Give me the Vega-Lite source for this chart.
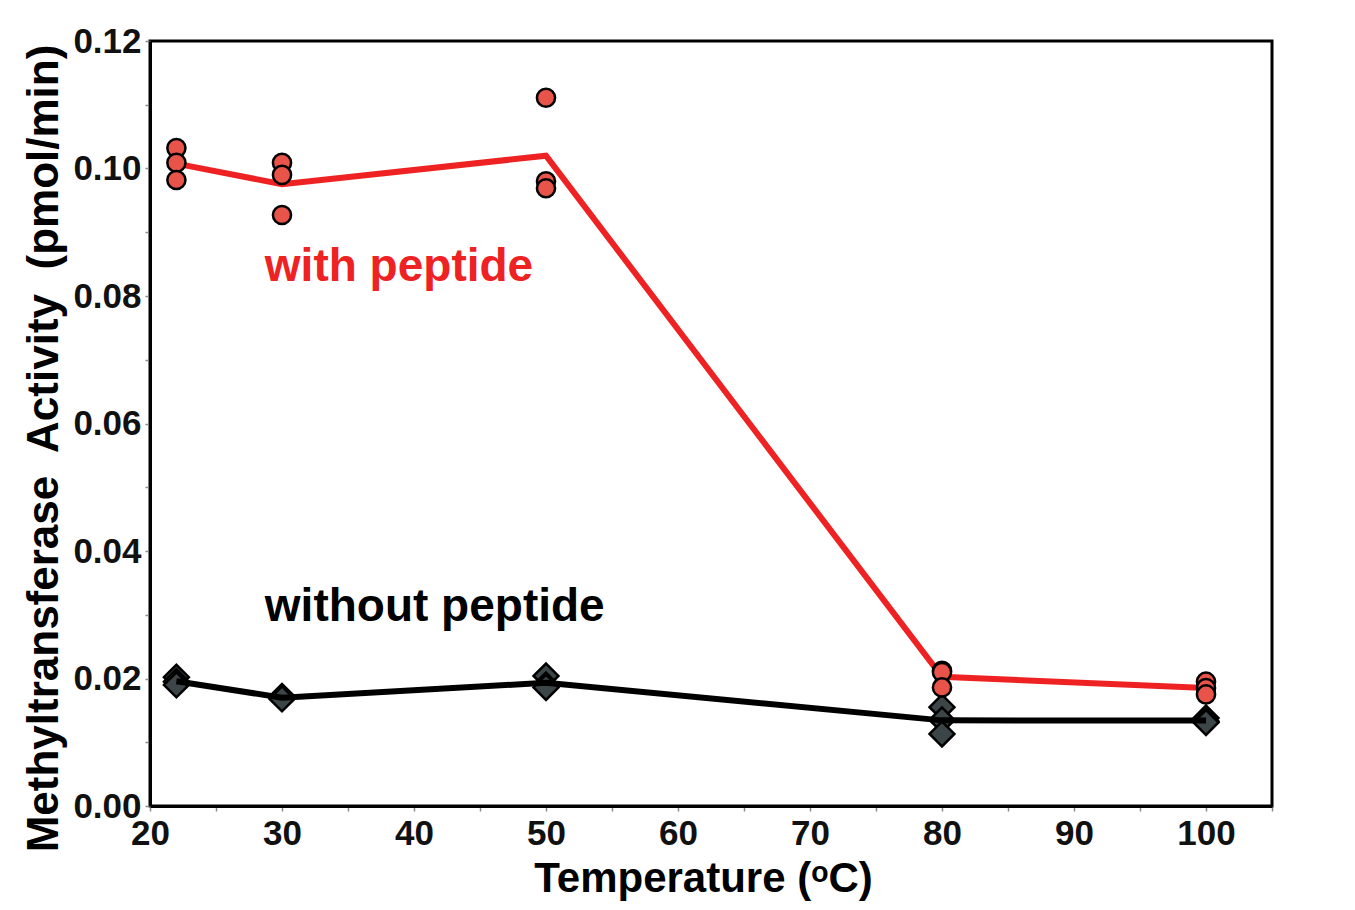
{
  "$schema": "https://vega.github.io/schema/vega-lite/v6.json",
  "width": 1122,
  "height": 765,
  "autosize": {"type": "none"},
  "padding": {"left": 150, "top": 41, "right": 83, "bottom": 104},
  "background": "white",
  "config": {
    "font": "Liberation Sans",
    "view": {"stroke": "black", "strokeWidth": 3},
    "axis": {
      "domainColor": "black",
      "domainWidth": 3,
      "tickColor": "#888888",
      "tickWidth": 1.5,
      "tickSize": 5,
      "grid": false,
      "labelFont": "Liberation Sans",
      "labelFontSize": 35,
      "labelFontWeight": "bold",
      "labelColor": "#111111",
      "titleFont": "Liberation Sans",
      "titleFontWeight": "bold",
      "titleColor": "black"
    }
  },
  "datasets": {
    "pts": [
      {"t": 22, "v": 0.1032, "s": "with"},
      {"t": 22, "v": 0.1009, "s": "with"},
      {"t": 22, "v": 0.0982, "s": "with"},
      {"t": 30, "v": 0.1009, "s": "with"},
      {"t": 30, "v": 0.0990, "s": "with"},
      {"t": 30, "v": 0.0927, "s": "with"},
      {"t": 50, "v": 0.1111, "s": "with"},
      {"t": 50, "v": 0.0980, "s": "with"},
      {"t": 50, "v": 0.0969, "s": "with"},
      {"t": 80, "v": 0.0212, "s": "with"},
      {"t": 80, "v": 0.0210, "s": "with"},
      {"t": 80, "v": 0.0186, "s": "with"},
      {"t": 100, "v": 0.0195, "s": "with"},
      {"t": 100, "v": 0.0185, "s": "with"},
      {"t": 100, "v": 0.0175, "s": "with"},
      {"t": 22, "v": 0.0202, "s": "without"},
      {"t": 22, "v": 0.0195, "s": "without"},
      {"t": 22, "v": 0.0190, "s": "without"},
      {"t": 30, "v": 0.0172, "s": "without"},
      {"t": 30, "v": 0.0170, "s": "without"},
      {"t": 30, "v": 0.0168, "s": "without"},
      {"t": 50, "v": 0.0204, "s": "without"},
      {"t": 50, "v": 0.0190, "s": "without"},
      {"t": 50, "v": 0.0186, "s": "without"},
      {"t": 80, "v": 0.0155, "s": "without"},
      {"t": 80, "v": 0.0135, "s": "without"},
      {"t": 80, "v": 0.0113, "s": "without"},
      {"t": 100, "v": 0.0138, "s": "without"},
      {"t": 100, "v": 0.0133, "s": "without"},
      {"t": 100, "v": 0.0131, "s": "without"}
    ],
    "labels": [
      {"t": 28.7, "v": 0.0845, "txt": "with peptide", "s": "with"},
      {"t": 28.7, "v": 0.0312, "txt": "without peptide", "s": "without"}
    ]
  },
  "encoding": {
    "x": {
      "field": "t",
      "type": "quantitative",
      "scale": {"domain": [20, 105], "nice": false, "zero": false},
      "axis": {
        "title": "Temperature (ᵒC)",
        "titleFontSize": 42,
        "titlePadding": 7,
        "titleX": 553,
        "values": [20, 25, 30, 35, 40, 45, 50, 55, 60, 65, 70, 75, 80, 85, 90, 95, 100, 105],
        "labelExpr": "datum.value % 10 == 0 && datum.value <= 100 ? datum.label : ''",
        "labelPadding": 5,
        "labelFlush": false
      }
    },
    "y": {
      "field": "v",
      "type": "quantitative",
      "scale": {"domain": [0, 0.12], "nice": false},
      "axis": {
        "title": "Methyltransferase\u00a0 Activity\u00a0 (pmol/min)",
        "titleFontSize": 44,
        "titlePadding": 6,
        "titleY": 407,
        "values": [0, 0.01, 0.02, 0.03, 0.04, 0.05, 0.06, 0.07, 0.08, 0.09, 0.1, 0.11, 0.12],
        "format": ".2f",
        "labelExpr": "abs(round(datum.value * 100) % 2) == 0 ? datum.label : ''",
        "labelPadding": 4,
        "labelFlush": false
      }
    }
  },
  "layer": [
    {
      "data": {"name": "pts"},
      "transform": [{"filter": "datum.s == 'with'"}],
      "mark": {"type": "line", "color": "#ee2222", "strokeWidth": 6},
      "encoding": {"y": {"aggregate": "mean", "field": "v", "type": "quantitative"}}
    },
    {
      "data": {"name": "pts"},
      "transform": [{"filter": "datum.s == 'without'"}],
      "mark": {"type": "point", "shape": "diamond", "filled": true, "fill": "#3c4547", "stroke": "black", "strokeWidth": 2.5, "size": 620, "opacity": 1}
    },
    {
      "data": {"name": "pts"},
      "transform": [{"filter": "datum.s == 'without'"}],
      "mark": {"type": "line", "color": "black", "strokeWidth": 6},
      "encoding": {"y": {"aggregate": "mean", "field": "v", "type": "quantitative"}}
    },
    {
      "data": {"name": "pts"},
      "transform": [{"filter": "datum.s == 'with'"}],
      "mark": {"type": "point", "shape": "circle", "filled": true, "fill": "#e8534a", "stroke": "black", "strokeWidth": 2.5, "size": 330, "opacity": 1}
    },
    {
      "data": {"name": "labels"},
      "mark": {"type": "text", "align": "left", "baseline": "middle", "fontSize": 46, "fontWeight": "bold", "font": "Liberation Sans"},
      "encoding": {
        "text": {"field": "txt"},
        "color": {
          "field": "s",
          "type": "nominal",
          "scale": {"domain": ["with", "without"], "range": ["#ee2222", "black"]},
          "legend": null
        }
      }
    }
  ]
}
